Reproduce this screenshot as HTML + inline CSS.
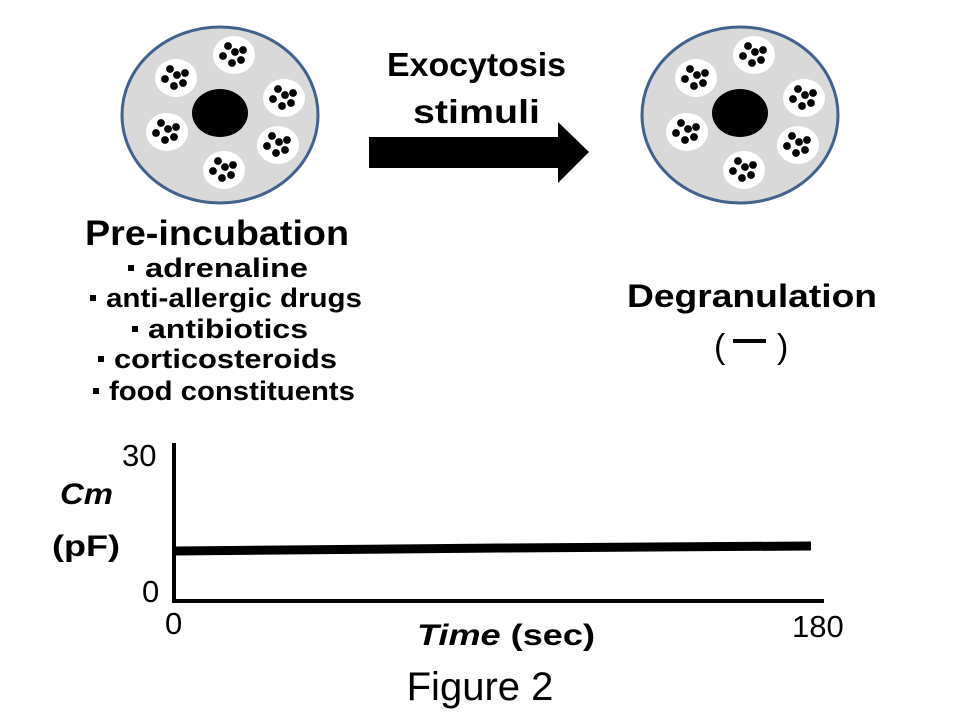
<!DOCTYPE html>
<html><head><meta charset="utf-8"><style>body{margin:0;background:#fff}svg{display:block}</style></head><body>
<svg width="960" height="720" viewBox="0 0 960 720" xmlns="http://www.w3.org/2000/svg" font-family="Liberation Sans, sans-serif">
<defs>
<g id="ves">
<ellipse cx="0" cy="0" rx="21" ry="19" fill="#fff"/>
<circle cx="-6" cy="-9" r="3.9"/><circle cx="1" cy="-3" r="3.9"/><circle cx="9" cy="-5" r="3.9"/>
<circle cx="-11" cy="1" r="3.9"/><circle cx="-2" cy="8" r="3.9"/><circle cx="7" cy="5" r="3.9"/>
</g>
<g id="cell">
<ellipse cx="220" cy="115" rx="98" ry="88" fill="#d9d9d9" stroke="#41628f" stroke-width="3"/>
<ellipse cx="220" cy="113" rx="28" ry="24" fill="#000"/>
<use href="#ves" x="234" y="55"/>
<use href="#ves" x="176" y="78"/>
<use href="#ves" x="284" y="98"/>
<use href="#ves" x="167" y="132"/>
<use href="#ves" x="278" y="145"/>
<use href="#ves" x="224" y="170"/>
</g>
</defs>
<use href="#cell"/>
<use href="#cell" x="520"/>
<polygon points="369,137 558,137 558,122 589,152 558,183 558,168 369,168" fill="#000"/>
<g font-weight="bold" fill="#000">
<text x="387" y="76" font-size="33" textLength="179" lengthAdjust="spacingAndGlyphs">Exocytosis</text>
<text x="413" y="123" font-size="33" textLength="127" lengthAdjust="spacingAndGlyphs">stimuli</text>
<text x="85" y="245" font-size="35" textLength="264" lengthAdjust="spacingAndGlyphs">Pre-incubation</text>
<g font-size="27">
<rect x="128" y="265" width="6" height="6"/><text x="145" y="277" textLength="163" lengthAdjust="spacingAndGlyphs">adrenaline</text>
<rect x="90" y="295" width="6" height="6"/><text x="106" y="307" textLength="256" lengthAdjust="spacingAndGlyphs">anti-allergic drugs</text>
<rect x="132" y="326" width="6" height="6"/><text x="148" y="338" textLength="160" lengthAdjust="spacingAndGlyphs">antibiotics</text>
<rect x="98" y="356" width="6" height="6"/><text x="114" y="368" textLength="223" lengthAdjust="spacingAndGlyphs">corticosteroids</text>
<rect x="93" y="388" width="6" height="6"/><text x="109" y="400" textLength="246" lengthAdjust="spacingAndGlyphs">food constituents</text>
</g>
<text x="627" y="307" font-size="32" textLength="250" lengthAdjust="spacingAndGlyphs">Degranulation</text>
</g>
<text x="714" y="358" font-size="34">(</text>
<rect x="733" y="339" width="33" height="4"/>
<text x="777" y="358" font-size="34">)</text>
<line x1="174" y1="443" x2="174" y2="603" stroke="#000" stroke-width="4"/>
<line x1="172" y1="601" x2="824" y2="601" stroke="#000" stroke-width="4"/>
<polyline points="176,551 500,548 811,546" fill="none" stroke="#000" stroke-width="9"/>
<g font-size="31">
<text x="122" y="466">30</text>
<text x="142" y="602">0</text>
<text x="165" y="634">0</text>
<text x="792" y="637">180</text>
</g>
<text x="60" y="504" font-size="30" font-weight="bold" font-style="italic" textLength="53" lengthAdjust="spacingAndGlyphs">Cm</text>
<text x="52" y="556" font-size="30" font-weight="bold" textLength="68" lengthAdjust="spacingAndGlyphs">(pF)</text>
<text x="417" y="645" font-size="30" font-weight="bold" textLength="178" lengthAdjust="spacingAndGlyphs"><tspan font-style="italic">Time</tspan> (sec)</text>
<text x="480" y="700" font-size="40" text-anchor="middle">Figure 2</text>
</svg>
</body></html>
